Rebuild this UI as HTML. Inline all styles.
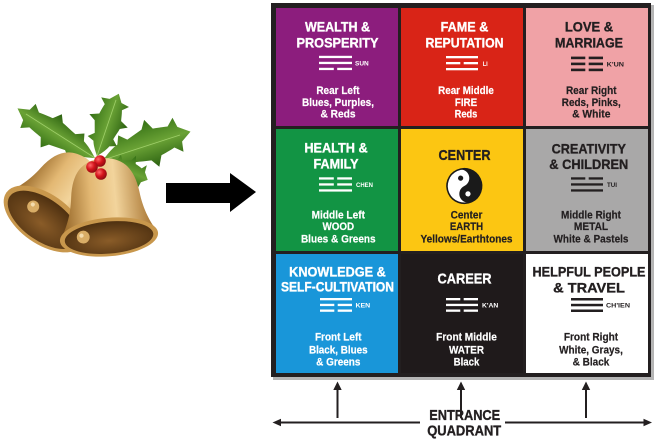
<!DOCTYPE html>
<html><head><meta charset="utf-8"><style>
html,body{margin:0;padding:0;background:#fff;}
svg{display:block;}
text{font-family:"Liberation Sans",Arial,sans-serif;font-weight:bold;}
</style></head><body>
<svg width="657" height="439" viewBox="0 0 657 439" xmlns="http://www.w3.org/2000/svg">
<defs>
<linearGradient id="gold" x1="0" y1="0" x2="1" y2="0">
<stop offset="0" stop-color="#8a5a1c"/><stop offset="0.35" stop-color="#e3b873"/><stop offset="0.6" stop-color="#f2d49c"/><stop offset="1" stop-color="#a06a26"/>
</linearGradient>
<radialGradient id="inside" cx="0.5" cy="0.6" r="0.6">
<stop offset="0" stop-color="#8a5c28"/><stop offset="1" stop-color="#4e3010"/>
</radialGradient>
<linearGradient id="leaf" x1="0" y1="0" x2="0" y2="1">
<stop offset="0" stop-color="#336f14"/><stop offset="0.5" stop-color="#6aa235"/><stop offset="1" stop-color="#2a6010"/>
</linearGradient>
<radialGradient id="berry" cx="0.35" cy="0.35" r="0.7">
<stop offset="0" stop-color="#ff6a6a"/><stop offset="0.5" stop-color="#d4141c"/><stop offset="1" stop-color="#8a0a10"/>
</radialGradient>
<path id="lf" d="M0,0 C8,-6 14,-10 20,-12 L24,-22 L32,-14 C38,-16 44,-18 50,-20 L56,-30 L62,-17 C68,-16 74,-15 78,-14 L86,-22 L88,-10 L100,0 L88,8 L86,20 L78,12 C72,14 66,15 62,16 L56,28 L50,18 C44,17 38,15 32,14 L24,22 L20,12 C14,10 8,6 0,0 Z"/>
<path id="bell" d="M-46,0 C-40,-10 -34,-22 -32,-40 C-29,-62 -20,-73 0,-74 C20,-73 29,-62 32,-40 C34,-22 40,-10 46,0 Z"/>
</defs>

<!-- Holly leaves -->
<g fill="url(#leaf)">
<use href="#lf" transform="translate(95,158) rotate(212.6) scale(0.92,0.68)"/>
<use href="#lf" transform="translate(97,156) rotate(-70.7) scale(0.66,0.7)"/>
<use href="#lf" transform="translate(103,160) rotate(-18) scale(0.92,0.85)"/>
<use href="#lf" transform="translate(106,163) rotate(22) scale(0.45,0.6)"/>
</g>
<g stroke="#9fcf6a" stroke-width="0.8" fill="none">
<line x1="95" y1="158" x2="26" y2="114"/>
<line x1="97" y1="156" x2="116" y2="100"/>
<line x1="103" y1="160" x2="180" y2="135"/>
</g>

<!-- Left bell -->
<g transform="translate(44,219) rotate(35)">
<use href="#bell" fill="url(#gold)"/>
<ellipse cx="0" cy="0" rx="46" ry="25" fill="#c8974c"/>
<ellipse cx="0" cy="1" rx="41" ry="21" fill="url(#inside)"/>
<circle cx="-16" cy="-4" r="6" fill="#d9ad66"/>
<circle cx="-17.5" cy="-5.5" r="2" fill="#f4dcae"/>
</g>
<!-- Right bell -->
<g transform="translate(109,237) rotate(-5) scale(1.07)">
<use href="#bell" fill="url(#gold)"/>
<ellipse cx="0" cy="0" rx="46" ry="18" fill="#c8974c"/>
<ellipse cx="0" cy="0.5" rx="41.5" ry="15" fill="url(#inside)"/>
<circle cx="-24" cy="-2" r="6" fill="#d9ad66"/>
<circle cx="-25.5" cy="-3.5" r="2" fill="#f4dcae"/>
</g>
<!-- Berries -->
<circle cx="100" cy="161" r="5.8" fill="url(#berry)"/>
<circle cx="92" cy="167" r="5.8" fill="url(#berry)"/>
<circle cx="101" cy="174" r="5.8" fill="url(#berry)"/>

<!-- Big arrow -->
<polygon points="166,183 230,183 230,173 256,192 230,212 230,203 166,203" fill="#000"/>

<!-- Grid -->
<rect x="273" y="5" width="381" height="375" fill="#b5b5b5"/>
<rect x="271" y="3" width="380" height="374" fill="#231f20"/>
<rect x="276" y="8" width="122" height="118" fill="#8c1d7d"/>
<rect x="401" y="8" width="122" height="118" fill="#d92417"/>
<rect x="526" y="8" width="122" height="118" fill="#f0a2a6"/>
<rect x="276" y="129" width="122" height="122" fill="#129444"/>
<rect x="401" y="129" width="122" height="122" fill="#fcc612"/>
<rect x="526" y="129" width="122" height="122" fill="#a9a8a8"/>
<rect x="276" y="254" width="122" height="119" fill="#1996d9"/>
<rect x="401" y="254" width="122" height="119" fill="#1f1a1b"/>
<rect x="526" y="254" width="122" height="119" fill="#ffffff"/>

<!-- Titles -->
<g font-size="14" text-anchor="middle" stroke-width="0.35">
<g fill="#fff" stroke="#fff">
<text x="337.5" y="31.5" textLength="65" lengthAdjust="spacingAndGlyphs">WEALTH &amp;</text>
<text x="337.5" y="47.3" textLength="82" lengthAdjust="spacingAndGlyphs">PROSPERITY</text>
<text x="464.5" y="31.5" textLength="47.7" lengthAdjust="spacingAndGlyphs">FAME &amp;</text>
<text x="464.5" y="47.3" textLength="78" lengthAdjust="spacingAndGlyphs">REPUTATION</text>
<text x="336" y="152.7" textLength="63.3" lengthAdjust="spacingAndGlyphs">HEALTH &amp;</text>
<text x="336" y="168.3" textLength="45" lengthAdjust="spacingAndGlyphs">FAMILY</text>
<text x="337.5" y="276.7" textLength="96.7" lengthAdjust="spacingAndGlyphs">KNOWLEDGE &amp;</text>
<text x="337.5" y="291.7" textLength="113" lengthAdjust="spacingAndGlyphs">SELF-CULTIVATION</text>
<text x="464.5" y="283.3" font-size="15" textLength="54" lengthAdjust="spacingAndGlyphs">CAREER</text>
</g>
<g fill="#231f20" stroke="#231f20">
<text x="589" y="31.5" textLength="48.3" lengthAdjust="spacingAndGlyphs">LOVE &amp;</text>
<text x="589" y="47.3" textLength="68" lengthAdjust="spacingAndGlyphs">MARRIAGE</text>
<text x="464.5" y="160" font-size="15" textLength="52" lengthAdjust="spacingAndGlyphs">CENTER</text>
<text x="588.8" y="153.3" textLength="74.3" lengthAdjust="spacingAndGlyphs">CREATIVITY</text>
<text x="588.8" y="169" textLength="79" lengthAdjust="spacingAndGlyphs">&amp; CHILDREN</text>
<text x="589" y="276.7" textLength="113" lengthAdjust="spacingAndGlyphs">HELPFUL PEOPLE</text>
<text x="589" y="292.3" textLength="71.7" lengthAdjust="spacingAndGlyphs">&amp; TRAVEL</text>
</g>
</g>

<!-- Body text -->
<g font-size="11" text-anchor="middle" stroke-width="0.2">
<g fill="#fff" stroke="#fff">
<text x="338" y="94" textLength="43.3" lengthAdjust="spacingAndGlyphs">Rear Left</text>
<text x="338" y="105.8" textLength="72" lengthAdjust="spacingAndGlyphs">Blues, Purples,</text>
<text x="338" y="117.7" textLength="35" lengthAdjust="spacingAndGlyphs">&amp; Reds</text>
<text x="466" y="94" textLength="55.7" lengthAdjust="spacingAndGlyphs">Rear Middle</text>
<text x="466" y="105.8" textLength="22.3" lengthAdjust="spacingAndGlyphs">FIRE</text>
<text x="466" y="117.7" textLength="22.7" lengthAdjust="spacingAndGlyphs">Reds</text>
<text x="338.3" y="218.3" textLength="53.3" lengthAdjust="spacingAndGlyphs">Middle Left</text>
<text x="338.3" y="230" textLength="31.7" lengthAdjust="spacingAndGlyphs">WOOD</text>
<text x="338.3" y="242.3" textLength="74.7" lengthAdjust="spacingAndGlyphs">Blues &amp; Greens</text>
<text x="338.3" y="340.7" textLength="46.7" lengthAdjust="spacingAndGlyphs">Front Left</text>
<text x="338.3" y="353.3" textLength="58.7" lengthAdjust="spacingAndGlyphs">Black, Blues</text>
<text x="338.3" y="365.7" textLength="44.3" lengthAdjust="spacingAndGlyphs">&amp; Greens</text>
<text x="466.5" y="340.7" textLength="60.7" lengthAdjust="spacingAndGlyphs">Front Middle</text>
<text x="466.5" y="353.3" textLength="35" lengthAdjust="spacingAndGlyphs">WATER</text>
<text x="466.5" y="365.7" textLength="25.7" lengthAdjust="spacingAndGlyphs">Black</text>
</g>
<g fill="#231f20" stroke="#231f20">
<text x="591.3" y="94" textLength="50.7" lengthAdjust="spacingAndGlyphs">Rear Right</text>
<text x="591.3" y="105.8" textLength="59" lengthAdjust="spacingAndGlyphs">Reds, Pinks,</text>
<text x="591.3" y="117.7" textLength="38.3" lengthAdjust="spacingAndGlyphs">&amp; White</text>
<text x="466.5" y="218.3" textLength="31.7" lengthAdjust="spacingAndGlyphs">Center</text>
<text x="466.5" y="230" textLength="33.3" lengthAdjust="spacingAndGlyphs">EARTH</text>
<text x="466.5" y="242.3" textLength="92" lengthAdjust="spacingAndGlyphs">Yellows/Earthtones</text>
<text x="591" y="218.3" textLength="60" lengthAdjust="spacingAndGlyphs">Middle Right</text>
<text x="591" y="230" textLength="34.3" lengthAdjust="spacingAndGlyphs">METAL</text>
<text x="591" y="242.3" textLength="75" lengthAdjust="spacingAndGlyphs">White &amp; Pastels</text>
<text x="591" y="340.7" textLength="54.3" lengthAdjust="spacingAndGlyphs">Front Right</text>
<text x="591" y="353.3" textLength="63.7" lengthAdjust="spacingAndGlyphs">White, Grays,</text>
<text x="591" y="365.7" textLength="36.7" lengthAdjust="spacingAndGlyphs">&amp; Black</text>
</g>
</g>

<!-- Trigrams -->
<g fill="#fff">
<rect x="319" y="55.8" width="33" height="2.3"/>
<rect x="319" y="61.8" width="33" height="2.3"/>
<rect x="319" y="67.8" width="14.8" height="2.3"/><rect x="337.2" y="67.8" width="14.8" height="2.3"/>
</g>
<g fill="#fff">
<rect x="446" y="56" width="32" height="2.3"/>
<rect x="446" y="62" width="14.3" height="2.3"/><rect x="463.7" y="62" width="14.3" height="2.3"/>
<rect x="446" y="68" width="32" height="2.3"/>
</g>
<g fill="#231f20">
<rect x="571" y="56.6" width="14.3" height="2.6"/><rect x="588.7" y="56.6" width="14.3" height="2.6"/>
<rect x="571" y="62.6" width="14.3" height="2.6"/><rect x="588.7" y="62.6" width="14.3" height="2.6"/>
<rect x="571" y="68.6" width="14.3" height="2.6"/><rect x="588.7" y="68.6" width="14.3" height="2.6"/>
</g>
<g fill="#fff">
<rect x="319" y="177.3" width="14.8" height="2.3"/><rect x="337.2" y="177.3" width="14.8" height="2.3"/>
<rect x="319" y="183.3" width="14.8" height="2.3"/><rect x="337.2" y="183.3" width="14.8" height="2.3"/>
<rect x="319" y="189.3" width="33" height="2.3"/>
</g>
<g fill="#231f20">
<rect x="571" y="177.3" width="14.3" height="2.3"/><rect x="588.7" y="177.3" width="14.3" height="2.3"/>
<rect x="571" y="183.3" width="32" height="2.3"/>
<rect x="571" y="189.3" width="32" height="2.3"/>
</g>
<g fill="#fff">
<rect x="320" y="298" width="32" height="2.3"/>
<rect x="320" y="303.8" width="14.3" height="2.3"/><rect x="337.7" y="303.8" width="14.3" height="2.3"/>
<rect x="320" y="309.5" width="14.3" height="2.3"/><rect x="337.7" y="309.5" width="14.3" height="2.3"/>
</g>
<g fill="#fff">
<rect x="446" y="298" width="14.3" height="2.3"/><rect x="463.7" y="298" width="14.3" height="2.3"/>
<rect x="446" y="303.8" width="32" height="2.3"/>
<rect x="446" y="309.5" width="14.3" height="2.3"/><rect x="463.7" y="309.5" width="14.3" height="2.3"/>
</g>
<g fill="#231f20">
<rect x="571" y="298" width="32" height="2.5"/>
<rect x="571" y="303.8" width="32" height="2.5"/>
<rect x="571" y="309.5" width="32" height="2.5"/>
</g>

<!-- Trigram labels -->
<g font-size="6.5">
<text x="355" y="65.6" fill="#fff" textLength="13.7" lengthAdjust="spacingAndGlyphs">SUN</text>
<text x="482.7" y="65.8" fill="#fff" textLength="5" lengthAdjust="spacingAndGlyphs">LI</text>
<text x="606.7" y="66.3" fill="#231f20" textLength="17.3" lengthAdjust="spacingAndGlyphs">K'UN</text>
<text x="356" y="187" fill="#fff" textLength="17" lengthAdjust="spacingAndGlyphs">CHEN</text>
<text x="607" y="187" fill="#231f20" textLength="10" lengthAdjust="spacingAndGlyphs">TUI</text>
<text x="355.5" y="307.5" fill="#fff" textLength="14.7" lengthAdjust="spacingAndGlyphs">KEN</text>
<text x="482" y="307.5" fill="#fff" textLength="16.3" lengthAdjust="spacingAndGlyphs">K'AN</text>
<text x="606" y="307.5" fill="#231f20" textLength="24" lengthAdjust="spacingAndGlyphs">CH'IEN</text>
</g>

<!-- Yin Yang -->
<g transform="translate(464.3,186) rotate(-25)">
<circle cx="0" cy="0" r="17.3" fill="#fff" stroke="#1a1a1a" stroke-width="1.6"/>
<path d="M0,-17.3 A17.3,17.3 0 0 1 0,17.3 A8.65,8.65 0 0 1 0,0 A8.65,8.65 0 0 0 0,-17.3 Z" fill="#1a1a1a"/>
<circle cx="0" cy="-8.65" r="2.6" fill="#1a1a1a"/>
<circle cx="0" cy="8.65" r="2.6" fill="#fff"/>
</g>

<!-- Entrance arrows -->
<g stroke="#231f20" stroke-width="2" fill="none">
<line x1="337.5" y1="387" x2="337.5" y2="418"/>
<line x1="461" y1="387" x2="461" y2="418"/>
<line x1="586" y1="387" x2="586" y2="418"/>
<line x1="279" y1="422.5" x2="420" y2="422.5"/>
<line x1="505" y1="422.5" x2="645" y2="422.5"/>
</g>
<g fill="#231f20">
<polygon points="333.3,390 337.5,381.5 341.7,390"/>
<polygon points="456.8,390 461,381.5 465.2,390"/>
<polygon points="581.8,390 586,381.5 590.2,390"/>
<polygon points="272.5,422.5 281,418.8 281,426.2"/>
<polygon points="652,422.5 643.5,418.8 643.5,426.2"/>
</g>
<g font-size="15" fill="#231f20" stroke="#231f20" stroke-width="0.35" text-anchor="middle">
<text x="464.7" y="420" textLength="71" lengthAdjust="spacingAndGlyphs">ENTRANCE</text>
<text x="464.2" y="435.7" textLength="74" lengthAdjust="spacingAndGlyphs">QUADRANT</text>
</g>
</svg>
</body></html>
